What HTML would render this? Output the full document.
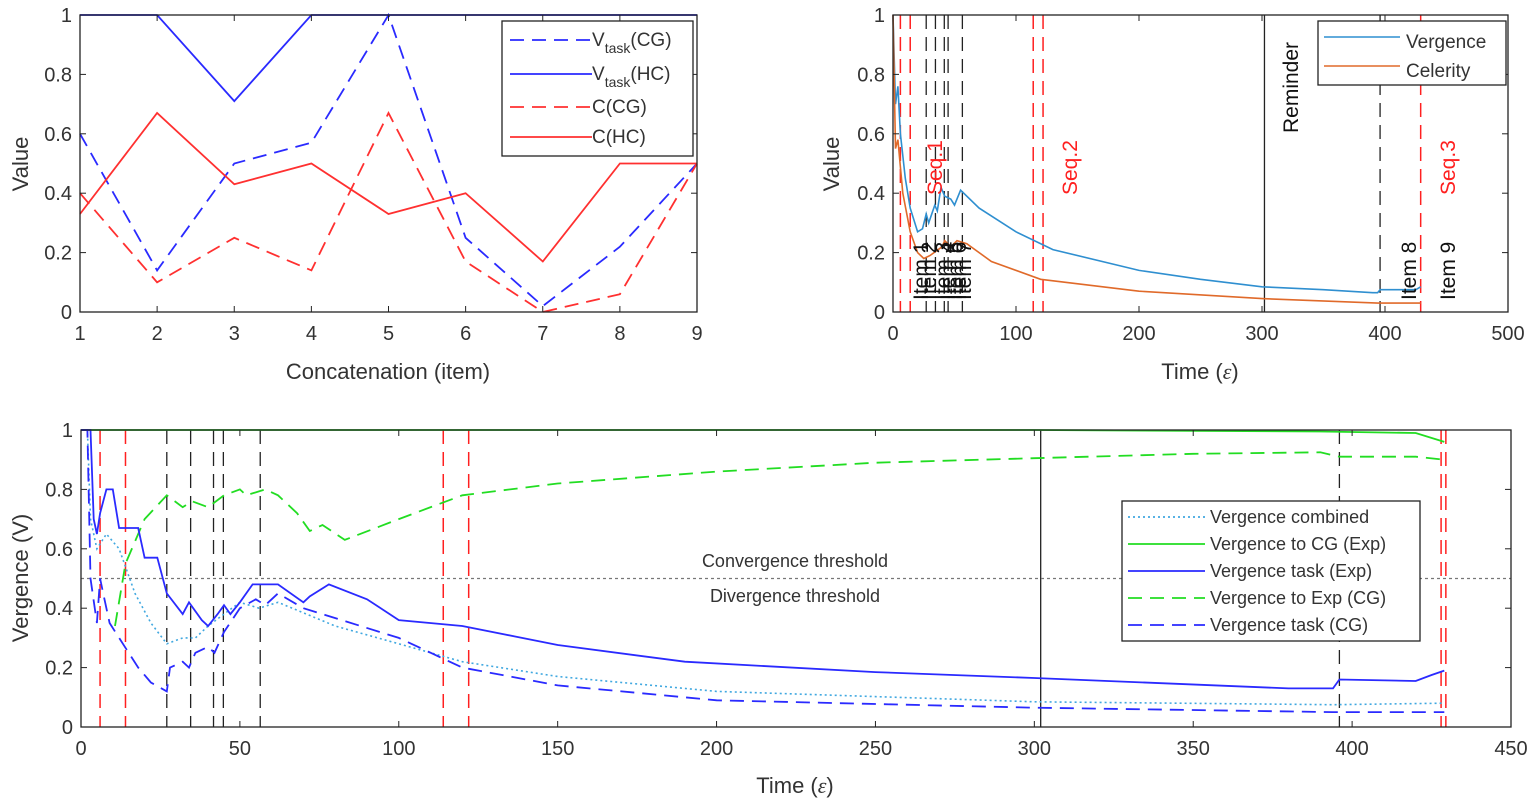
<!DOCTYPE html>
<html><head><meta charset="utf-8"><style>
html,body{margin:0;padding:0;background:#fff;}
svg{display:block;font-family:"Liberation Sans",Arial,sans-serif;}
</style></head><body>
<svg id="fig" width="1535" height="803" viewBox="0 0 1535 803"></svg>
<script>
// ---------- data ----------
const items = [1,2,3,4,5,6,7,8,9];
const vTaskCG = [0.6,0.14,0.5,0.57,1.0,0.25,0.02,0.22,0.5];
const vTaskHC = [1,1,0.71,1,1,1,1,1,1];
const cCG = [0.4,0.1,0.25,0.14,0.67,0.17,0.0,0.06,0.5];
const cHC = [0.33,0.67,0.43,0.5,0.33,0.4,0.17,0.5,0.5];

const vergT = [0,2,4,6,10,14,20,24,27,29,34,36,39,42,47,50,55,70,100,130,200,250,300,350,390,394,396,425,429];
const vergV = [1,0.7,0.76,0.6,0.45,0.35,0.27,0.28,0.33,0.3,0.36,0.34,0.42,0.39,0.38,0.36,0.41,0.35,0.27,0.21,0.14,0.11,0.085,0.075,0.065,0.065,0.075,0.075,0.085];
const celT = [0,2,4,8,14,20,25,30,40,42,47,52,60,80,120,200,300,394,429];
const celV = [1,0.55,0.58,0.4,0.27,0.2,0.18,0.19,0.22,0.24,0.22,0.24,0.23,0.17,0.11,0.07,0.045,0.03,0.03];

const redLines = [6,14,114,122,428,429.5];
const itemLines = [27,34.5,41.7,44.8,56.4,396];
const reminderT = 302;

const expT = [0,3,4,5,6,8,10,12,18,20,24,27,32,34,38,40,43,45,47,50,54,62,70,72,78,90,100,120,150,190,250,300,380,394,396,420,425,429];
const expV = [1,1,0.7,0.65,0.72,0.8,0.8,0.67,0.67,0.57,0.57,0.45,0.38,0.42,0.36,0.34,0.38,0.41,0.38,0.42,0.48,0.48,0.42,0.44,0.48,0.43,0.36,0.34,0.276,0.22,0.185,0.165,0.13,0.13,0.16,0.155,0.175,0.19];
const cgT = [0,2,3,5,6,7,9,12,18,22,27,28,32,34,36,40,42,45,50,55,58,62,70,100,120,150,200,300,394,429];
const cgV = [1,1,0.5,0.35,0.5,0.45,0.35,0.3,0.2,0.15,0.12,0.2,0.22,0.2,0.25,0.27,0.25,0.32,0.4,0.43,0.41,0.45,0.4,0.3,0.2,0.14,0.09,0.065,0.05,0.05];
const combT = [0,2,3,5,8,12,17,22,27,32,36,40,45,50,56,62,80,100,120,150,200,300,394,429];
const combV = [1,1,0.7,0.6,0.65,0.6,0.45,0.35,0.28,0.3,0.3,0.34,0.38,0.42,0.4,0.42,0.34,0.28,0.22,0.17,0.12,0.085,0.075,0.08];
const toCgT = [0,300,390,420,429];
const toCgV = [1,1,0.995,0.99,0.96];
const toExpT = [10.7,14,20,27,32,35,40,45,50,52,58,62,68,72,76,83,100,120,150,200,250,300,350,390,396,420,429];
const toExpV = [0.34,0.55,0.7,0.78,0.74,0.76,0.74,0.78,0.8,0.78,0.8,0.78,0.72,0.66,0.68,0.63,0.7,0.78,0.82,0.86,0.89,0.905,0.92,0.925,0.91,0.91,0.9];

const tlTicksX=[1,2,3,4,5,6,7,8,9], yTicks=[0,0.2,0.4,0.6,0.8,1];
const trTicksX=[0,100,200,300,400,500];
const bTicksX=[0,50,100,150,200,250,300,350,400,450];

// ---------- helpers ----------
const NS="http://www.w3.org/2000/svg";
const svg=document.getElementById('fig');
function mk(tag,attrs,parent){const e=document.createElementNS(NS,tag);for(const k in attrs)e.setAttribute(k,attrs[k]);(parent||svg).appendChild(e);return e;}
function scale(d0,d1,r0,r1){return v=>r0+(v-d0)/(d1-d0)*(r1-r0);}
function poly(xs,ys,X,Y,style,name){
  const pts=xs.map((x,i)=>X(x).toFixed(1)+','+Y(ys[i]).toFixed(1)).join(' ');
  const p=mk('polyline',Object.assign({points:pts,fill:'none'},style));
  
  
  return p;
}
function axes(x0,y0,x1,y1,X,Y,xt,yt,name){
  const g=mk('g',{});
  
  
  mk('rect',{x:x0,y:y0,width:x1-x0,height:y1-y0,fill:'none',stroke:'#222','stroke-width':1.3},g);
  xt.forEach(v=>{const x=X(v);mk('line',{x1:x,x2:x,y1:y1,y2:y1-6,stroke:'#222'},g);mk('line',{x1:x,x2:x,y1:y0,y2:y0+6,stroke:'#222'},g);
    const t=mk('text',{x:x,y:y1+28,'text-anchor':'middle','font-size':20,fill:'#333'},g);t.textContent=v;});
  yt.forEach(v=>{const y=Y(v);mk('line',{x1:x0,x2:x0+6,y1:y,y2:y,stroke:'#222'},g);mk('line',{x1:x1,x2:x1-6,y1:y,y2:y,stroke:'#222'},g);
    const t=mk('text',{x:x0-8,y:y+7,'text-anchor':'end','font-size':20,fill:'#333'},g);t.textContent=v;});
  return g;
}
function txt(x,y,s,opt){const t=mk('text',Object.assign({x:x,y:y,'font-size':20,fill:'#333'},opt||{}));t.textContent=s;return t;}
function vtext(x,y,s,color,name,fs){const t=mk('text',{x:x,y:y,'font-size':fs||20,fill:color,transform:`rotate(-90 ${x} ${y})`});t.textContent=s;
  
  return t;}

// ---------- top-left ----------
{
const X=scale(1,9,80,697),Y=scale(0,1,312,15);
poly(items,vTaskHC,X,Y,{stroke:'#2a2aff','stroke-width':1.8},'line-vtask-hc');
poly(items,vTaskCG,X,Y,{stroke:'#2a2aff','stroke-width':1.8,'stroke-dasharray':'14 8'},'line-vtask-cg');
poly(items,cHC,X,Y,{stroke:'#ff3030','stroke-width':1.8},'line-c-hc');
poly(items,cCG,X,Y,{stroke:'#ff3030','stroke-width':1.8,'stroke-dasharray':'14 8'},'line-c-cg');
axes(80,15,697,312,X,Y,tlTicksX,yTicks,'top-left-axes');
const xl=txt(388,379,'Concatenation (item)',{'text-anchor':'middle','font-size':22});

vtext(28,164,'Value','#333','y-axis-title-value',22).setAttribute('text-anchor','middle');
const lg=mk('g',{});
mk('rect',{x:502,y:21,width:191,height:135,fill:'#fff',stroke:'#222','stroke-width':1.3},lg);
const ents=[['V','task','(CG)','#2a2aff','14 8',46],['V','task','(HC)','#2a2aff','',80],['C(CG)','','','#ff3030','14 8',113],['C(HC)','','','#ff3030','',143]];
ents.forEach(e=>{mk('line',{x1:510,x2:592,y1:e[5]-6,y2:e[5]-6,stroke:e[3],'stroke-width':1.8,'stroke-dasharray':e[4]||'none'},lg);
  const t=mk('text',{x:592,y:e[5],'font-size':19,fill:'#333'},lg);
  if(e[1]){t.innerHTML=`${e[0]}<tspan dy="7" font-size="14">${e[1]}</tspan><tspan dy="-7">${e[2]}</tspan>`;}else t.textContent=e[0];});
}

// ---------- top-right ----------
{
const X=scale(0,500,893,1508),Y=scale(0,1,312,15);
[6,14,114,122,429].forEach(v=>{const l=mk('line',{x1:X(v),x2:X(v),y1:15,y2:312,stroke:'#ff2020','stroke-width':1.5,'stroke-dasharray':'14 8'});});
itemLines.forEach(v=>{const l=mk('line',{x1:X(v),x2:X(v),y1:15,y2:312,stroke:'#222','stroke-width':1.3,'stroke-dasharray':'14 8'});});
mk('line',{x1:X(reminderT),x2:X(reminderT),y1:15,y2:312,stroke:'#222','stroke-width':1.3});
poly(vergT,vergV,X,Y,{stroke:'#2f8fd0','stroke-width':1.6},'line-vergence');
poly(celT,celV,X,Y,{stroke:'#e06a2a','stroke-width':1.6},'line-celerity');
axes(893,15,1508,312,X,Y,trTicksX,yTicks,'top-right-axes');
const xl=txt(1200,379,'Time (',{'text-anchor':'middle','font-size':22});xl.innerHTML='Time (<tspan font-family="Liberation Serif" font-style="italic">ε</tspan>)';

vtext(839,164,'Value','#333','y-axis-title-value-right',22).setAttribute('text-anchor','middle');
vtext(942,195,'Seq.1','#ff2020','seq1-label',21);
vtext(1077,195,'Seq.2','#ff2020','seq2-label',21);
vtext(1455,195,'Seq.3','#ff2020','seq3-label',21);
vtext(1298,133,'Reminder','#111','reminder-label',21);
[['Item 1',928],['Item 2',936],['Item 3',950],['Item 4',955],['Item 5',962],['Item 6',966],['Item 7',971],['Item 8',1416],['Item 9',1455]].forEach(a=>vtext(a[1],300,a[0],'#111','item-label',21));
const lg=mk('g',{});
mk('rect',{x:1318,y:21,width:188,height:64,fill:'#fff',stroke:'#222','stroke-width':1.3},lg);
mk('line',{x1:1324,x2:1400,y1:37,y2:37,stroke:'#2f8fd0','stroke-width':1.6},lg);
mk('line',{x1:1324,x2:1400,y1:66,y2:66,stroke:'#e06a2a','stroke-width':1.6},lg);
const a=mk('text',{x:1406,y:48,'font-size':19,fill:'#333'},lg);a.textContent='Vergence';
const b=mk('text',{x:1406,y:77,'font-size':19,fill:'#333'},lg);b.textContent='Celerity';
}

// ---------- bottom ----------
{
const X=scale(0,450,81,1511),Y=scale(0,1,727,430);
redLines.forEach(v=>{const l=mk('line',{x1:X(v),x2:X(v),y1:430,y2:727,stroke:'#ff2020','stroke-width':1.5,'stroke-dasharray':'14 8'});});
itemLines.forEach(v=>{const l=mk('line',{x1:X(v),x2:X(v),y1:430,y2:727,stroke:'#222','stroke-width':1.3,'stroke-dasharray':'14 8'});});
mk('line',{x1:X(reminderT),x2:X(reminderT),y1:430,y2:727,stroke:'#222','stroke-width':1.3});
const th=mk('line',{x1:81,x2:1511,y1:Y(0.5),y2:Y(0.5),stroke:'#777','stroke-width':1.2,'stroke-dasharray':'3 3'});

txt(795,567,'Convergence threshold',{'text-anchor':'middle','font-size':18});
txt(795,602,'Divergence threshold',{'text-anchor':'middle','font-size':18});
poly(toCgT,toCgV,X,Y,{stroke:'#22dd22','stroke-width':1.8},'line-vergence-to-cg');
poly(toExpT,toExpV,X,Y,{stroke:'#22dd22','stroke-width':1.8,'stroke-dasharray':'14 8'},'line-vergence-to-exp');
poly(combT,combV,X,Y,{stroke:'#40a8e0','stroke-width':1.6,'stroke-dasharray':'2 3'},'line-vergence-combined');
poly(expT,expV,X,Y,{stroke:'#2a2aff','stroke-width':1.8},'line-vergence-task-exp');
poly(cgT,cgV,X,Y,{stroke:'#2a2aff','stroke-width':1.8,'stroke-dasharray':'14 8'},'line-vergence-task-cg');
axes(81,430,1511,727,X,Y,bTicksX,yTicks,'bottom-axes');
const xl=txt(795,793,'',{'text-anchor':'middle','font-size':22});xl.innerHTML='Time (<tspan font-family="Liberation Serif" font-style="italic">ε</tspan>)';

vtext(28,578,'Vergence (V)','#333','y-axis-title-vergence',22).setAttribute('text-anchor','middle');
const lg=mk('g',{});
mk('rect',{x:1122,y:501,width:298,height:140,fill:'#fff',stroke:'#222','stroke-width':1.3},lg);
const ents=[['Vergence combined','#40a8e0','2 3',523],['Vergence to CG (Exp)','#22dd22','',550],['Vergence task (Exp)','#2a2aff','',577],['Vergence to Exp (CG)','#22dd22','14 8',604],['Vergence task (CG)','#2a2aff','14 8',631]];
ents.forEach(e=>{mk('line',{x1:1128,x2:1205,y1:e[3]-6,y2:e[3]-6,stroke:e[1],'stroke-width':1.8,'stroke-dasharray':e[2]||'none'},lg);
  const t=mk('text',{x:1210,y:e[3],'font-size':18,fill:'#333'},lg);t.textContent=e[0];});
}
</script>
</body></html>
